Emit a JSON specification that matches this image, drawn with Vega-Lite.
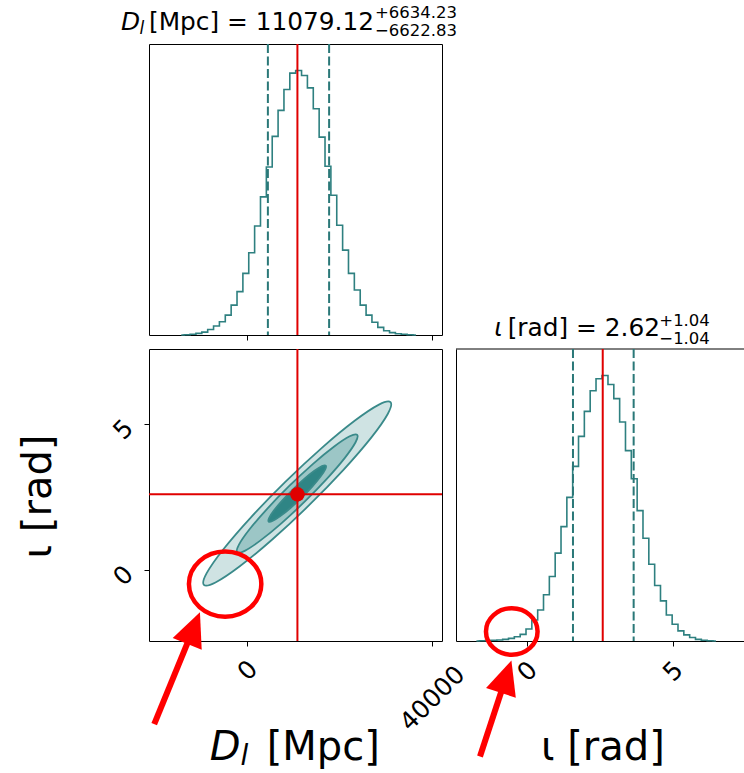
{
  "$schema": "https://vega.github.io/schema/vega-lite/v6.json",
  "padding": {"left": 17, "top": 4, "right": 0, "bottom": 0},
  "background": "white",
  "config": {
    "font": "DejaVu Sans",
    "view": {"stroke": "black", "strokeWidth": 1},
    "axis": {"grid": false, "domain": false, "tickColor": "black", "tickSize": 5, "tickWidth": 1, "labelColor": "black", "labelFont": "DejaVu Sans", "labelFontSize": 25, "labelFlush": false, "labelOverlap": false, "titleFont": "DejaVu Sans", "titleColor": "black", "titleFontWeight": "normal", "titleFontSize": 40},
    "text": {"font": "DejaVu Sans", "color": "black"}
  },
  "datasets": {
    "dlHist": [
      {"dl": -14290, "density": 0}, {"dl": -13020, "density": 0.001}, {"dl": -11750, "density": 0.003},
      {"dl": -10480, "density": 0.006}, {"dl": -9210, "density": 0.011}, {"dl": -7940, "density": 0.021},
      {"dl": -6670, "density": 0.034}, {"dl": -5400, "density": 0.05}, {"dl": -4130, "density": 0.075},
      {"dl": -2860, "density": 0.113}, {"dl": -1590, "density": 0.164}, {"dl": -320, "density": 0.233},
      {"dl": 950, "density": 0.311}, {"dl": 2220, "density": 0.412}, {"dl": 3490, "density": 0.522},
      {"dl": 4760, "density": 0.635}, {"dl": 6030, "density": 0.751}, {"dl": 7300, "density": 0.849},
      {"dl": 8570, "density": 0.928}, {"dl": 9840, "density": 0.99}, {"dl": 11110, "density": 1.0},
      {"dl": 12380, "density": 0.981}, {"dl": 13650, "density": 0.934}, {"dl": 14920, "density": 0.855},
      {"dl": 16190, "density": 0.748}, {"dl": 17460, "density": 0.638}, {"dl": 18730, "density": 0.528},
      {"dl": 20000, "density": 0.415}, {"dl": 21270, "density": 0.321}, {"dl": 22540, "density": 0.233},
      {"dl": 23810, "density": 0.17}, {"dl": 25080, "density": 0.113}, {"dl": 26350, "density": 0.075},
      {"dl": 27620, "density": 0.048}, {"dl": 28890, "density": 0.029}, {"dl": 30160, "density": 0.016},
      {"dl": 31430, "density": 0.009}, {"dl": 32700, "density": 0.005}, {"dl": 33970, "density": 0.003},
      {"dl": 35240, "density": 0.001}, {"dl": 36510, "density": 0}
    ],
    "iotaHist": [
      {"iota": -1.73, "density": 0}, {"iota": -1.53, "density": 0.001}, {"iota": -1.33, "density": 0.002},
      {"iota": -1.13, "density": 0.003}, {"iota": -0.93, "density": 0.004}, {"iota": -0.73, "density": 0.006},
      {"iota": -0.53, "density": 0.01}, {"iota": -0.33, "density": 0.016}, {"iota": -0.13, "density": 0.025},
      {"iota": 0.07, "density": 0.045}, {"iota": 0.27, "density": 0.079}, {"iota": 0.47, "density": 0.117},
      {"iota": 0.67, "density": 0.174}, {"iota": 0.87, "density": 0.243}, {"iota": 1.07, "density": 0.331},
      {"iota": 1.27, "density": 0.431}, {"iota": 1.47, "density": 0.541}, {"iota": 1.67, "density": 0.658},
      {"iota": 1.87, "density": 0.771}, {"iota": 2.07, "density": 0.865}, {"iota": 2.27, "density": 0.943},
      {"iota": 2.47, "density": 0.988}, {"iota": 2.68, "density": 1.0}, {"iota": 2.88, "density": 0.966},
      {"iota": 3.08, "density": 0.913}, {"iota": 3.28, "density": 0.825}, {"iota": 3.48, "density": 0.717},
      {"iota": 3.68, "density": 0.611}, {"iota": 3.88, "density": 0.491}, {"iota": 4.08, "density": 0.387},
      {"iota": 4.28, "density": 0.289}, {"iota": 4.48, "density": 0.209}, {"iota": 4.68, "density": 0.151},
      {"iota": 4.88, "density": 0.098}, {"iota": 5.08, "density": 0.063}, {"iota": 5.28, "density": 0.038},
      {"iota": 5.48, "density": 0.023}, {"iota": 5.68, "density": 0.013}, {"iota": 5.88, "density": 0.006},
      {"iota": 6.08, "density": 0.003}, {"iota": 6.28, "density": 0.001}, {"iota": 6.48, "density": 0}
    ],
    "contours": [
      {"level": "outer", "i": 0, "dl": 31005, "iota": 5.756}, {"level": "outer", "i": 1, "dl": 28503, "iota": 5.674},
      {"level": "outer", "i": 2, "dl": 23305, "iota": 5.127}, {"level": "outer", "i": 3, "dl": 16206, "iota": 4.2},
      {"level": "outer", "i": 4, "dl": 8283, "iota": 3.032}, {"level": "outer", "i": 5, "dl": 744, "iota": 1.802},
      {"level": "outer", "i": 6, "dl": -5261, "iota": 0.698}, {"level": "outer", "i": 7, "dl": -8823, "iota": -0.114},
      {"level": "outer", "i": 8, "dl": -9395, "iota": -0.508}, {"level": "outer", "i": 9, "dl": -6893, "iota": -0.426},
      {"level": "outer", "i": 10, "dl": -1695, "iota": 0.121}, {"level": "outer", "i": 11, "dl": 5404, "iota": 1.048},
      {"level": "outer", "i": 12, "dl": 13327, "iota": 2.216}, {"level": "outer", "i": 13, "dl": 20866, "iota": 3.446},
      {"level": "outer", "i": 14, "dl": 26871, "iota": 4.551}, {"level": "outer", "i": 15, "dl": 30433, "iota": 5.362},
      {"level": "mid", "i": 0, "dl": 23791, "iota": 4.638}, {"level": "mid", "i": 1, "dl": 22166, "iota": 4.588},
      {"level": "mid", "i": 2, "dl": 18810, "iota": 4.238}, {"level": "mid", "i": 3, "dl": 14237, "iota": 3.644},
      {"level": "mid", "i": 4, "dl": 9140, "iota": 2.893}, {"level": "mid", "i": 5, "dl": 4297, "iota": 2.102},
      {"level": "mid", "i": 6, "dl": 446, "iota": 1.39}, {"level": "mid", "i": 7, "dl": -1830, "iota": 0.866},
      {"level": "mid", "i": 8, "dl": -2181, "iota": 0.61}, {"level": "mid", "i": 9, "dl": -556, "iota": 0.66},
      {"level": "mid", "i": 10, "dl": 2800, "iota": 1.01}, {"level": "mid", "i": 11, "dl": 7373, "iota": 1.604},
      {"level": "mid", "i": 12, "dl": 12470, "iota": 2.355}, {"level": "mid", "i": 13, "dl": 17313, "iota": 3.146},
      {"level": "mid", "i": 14, "dl": 21164, "iota": 3.858}, {"level": "mid", "i": 15, "dl": 23440, "iota": 4.382},
      {"level": "inner", "i": 0, "dl": 16989, "iota": 3.583}, {"level": "inner", "i": 1, "dl": 16171, "iota": 3.566},
      {"level": "inner", "i": 2, "dl": 14536, "iota": 3.406}, {"level": "inner", "i": 3, "dl": 12333, "iota": 3.127},
      {"level": "inner", "i": 4, "dl": 9897, "iota": 2.771}, {"level": "inner", "i": 5, "dl": 7599, "iota": 2.393},
      {"level": "inner", "i": 6, "dl": 5790, "iota": 2.05}, {"level": "inner", "i": 7, "dl": 4745, "iota": 1.794},
      {"level": "inner", "i": 8, "dl": 4621, "iota": 1.665}, {"level": "inner", "i": 9, "dl": 5439, "iota": 1.682},
      {"level": "inner", "i": 10, "dl": 7074, "iota": 1.842}, {"level": "inner", "i": 11, "dl": 9277, "iota": 2.121},
      {"level": "inner", "i": 12, "dl": 11713, "iota": 2.477}, {"level": "inner", "i": 13, "dl": 14011, "iota": 2.855},
      {"level": "inner", "i": 14, "dl": 15820, "iota": 3.198}, {"level": "inner", "i": 15, "dl": 16865, "iota": 3.454}
    ]
  },
  "bounds": "flush",
  "spacing": 14,
  "resolve": {"scale": {"x": "independent", "y": "independent"}},
  "vconcat": [
    {
      "width": 293, "height": 291,
      "layer": [
        {
          "data": {"name": "dlHist"},
          "mark": {"type": "line", "interpolate": "step", "color": "#2e8080", "strokeWidth": 1.6},
          "encoding": {
            "x": {"field": "dl", "type": "quantitative", "scale": {"domain": [-21280, 42150], "nice": false, "zero": false}, "axis": {"values": [0, 40000], "labels": false, "title": null}},
            "y": {"field": "density", "type": "quantitative", "scale": {"domain": [0, 1.1], "nice": false}, "axis": null}
          }
        },
        {
          "data": {"values": [{"dl": 4456.29}, {"dl": 17713.35}]},
          "mark": {"type": "rule", "color": "#2a7878", "strokeWidth": 2, "strokeDash": [9, 3.5]},
          "encoding": {"x": {"field": "dl", "type": "quantitative", "scale": {"domain": [-21280, 42150], "nice": false, "zero": false}}}
        },
        {
          "data": {"values": [{"dl": 10850}]},
          "mark": {"type": "rule", "color": "#e00000", "strokeWidth": 2},
          "encoding": {"x": {"field": "dl", "type": "quantitative", "scale": {"domain": [-21280, 42150], "nice": false, "zero": false}}}
        },
        {
          "data": {"values": [{"s": "D"}]},
          "mark": {"type": "text", "fontStyle": "italic", "fontSize": 24.8, "align": "right", "baseline": "alphabetic"},
          "encoding": {"text": {"field": "s"}, "x": {"value": -9}, "y": {"value": -14.4}}
        },
        {
          "data": {"values": [{"s": "l"}]},
          "mark": {"type": "text", "fontStyle": "italic", "fontSize": 17, "align": "left", "baseline": "alphabetic"},
          "encoding": {"text": {"field": "s"}, "x": {"value": -9.5}, "y": {"value": -10.5}}
        },
        {
          "data": {"values": [{"s": "[Mpc] = 11079.12"}]},
          "mark": {"type": "text", "fontSize": 24.8, "align": "left", "baseline": "alphabetic"},
          "encoding": {"text": {"field": "s"}, "x": {"value": 0}, "y": {"value": -14.4}}
        },
        {
          "data": {"values": [{"s": "+6634.23"}]},
          "mark": {"type": "text", "fontSize": 16.5, "align": "left", "baseline": "alphabetic"},
          "encoding": {"text": {"field": "s"}, "x": {"value": 226}, "y": {"value": -26.5}}
        },
        {
          "data": {"values": [{"s": "−6622.83"}]},
          "mark": {"type": "text", "fontSize": 16.5, "align": "left", "baseline": "alphabetic"},
          "encoding": {"text": {"field": "s"}, "x": {"value": 226}, "y": {"value": -8}}
        }
      ]
    },
    {
      "bounds": "flush",
      "spacing": 14,
      "resolve": {"scale": {"x": "independent", "y": "independent"}},
      "hconcat": [
        {
          "width": 293, "height": 292,
          "layer": [
            {
              "data": {"name": "contours"},
              "transform": [{"filter": "datum.level == 'outer'"}],
              "mark": {"type": "line", "interpolate": "cardinal-closed", "fill": "#cfe3e3", "stroke": "#3a8a8a", "strokeWidth": 1.8},
              "encoding": {
                "x": {"field": "dl", "type": "quantitative", "scale": {"domain": [-21280, 42150], "nice": false, "zero": false},
                      "axis": {"values": [0, 40000], "format": "d", "labelAngle": -45, "labelAlign": "center", "labelBaseline": "middle",
                               "labelPadding": {"condition": {"test": "datum.value == 40000", "value": 52}, "value": 24}, "title": null}},
                "y": {"field": "iota", "type": "quantitative", "scale": {"domain": [-2.43, 7.58], "nice": false, "zero": false},
                      "axis": {"values": [0, 5], "labelAngle": -45, "labelAlign": "center", "labelBaseline": "middle", "labelPadding": 21, "labelOffset": 5,
                               "title": "ι [rad]", "titleX": -98.6, "titleY": 147, "titleAngle": -90, "titleAlign": "center", "titleBaseline": "alphabetic"}},
                "order": {"field": "i", "type": "quantitative"}
              }
            },
            {
              "data": {"name": "contours"},
              "transform": [{"filter": "datum.level == 'mid'"}],
              "mark": {"type": "line", "interpolate": "cardinal-closed", "fill": "#9cc6c6", "stroke": "#3a8a8a", "strokeWidth": 1.8},
              "encoding": {
                "x": {"field": "dl", "type": "quantitative", "scale": {"domain": [-21280, 42150], "nice": false, "zero": false}},
                "y": {"field": "iota", "type": "quantitative", "scale": {"domain": [-2.43, 7.58], "nice": false, "zero": false}},
                "order": {"field": "i", "type": "quantitative"}
              }
            },
            {
              "data": {"name": "contours"},
              "transform": [{"filter": "datum.level == 'inner'"}],
              "mark": {"type": "line", "interpolate": "cardinal-closed", "fill": "#2f8585", "stroke": "#3a8a8a", "strokeWidth": 1.8},
              "encoding": {
                "x": {"field": "dl", "type": "quantitative", "scale": {"domain": [-21280, 42150], "nice": false, "zero": false}},
                "y": {"field": "iota", "type": "quantitative", "scale": {"domain": [-2.43, 7.58], "nice": false, "zero": false}},
                "order": {"field": "i", "type": "quantitative"}
              }
            },
            {
              "data": {"values": [{"dl": 10850}]},
              "mark": {"type": "rule", "color": "#e00000", "strokeWidth": 2},
              "encoding": {"x": {"field": "dl", "type": "quantitative", "scale": {"domain": [-21280, 42150], "nice": false, "zero": false}}}
            },
            {
              "data": {"values": [{"iota": 2.6}]},
              "mark": {"type": "rule", "color": "#e00000", "strokeWidth": 2},
              "encoding": {"y": {"field": "iota", "type": "quantitative", "scale": {"domain": [-2.43, 7.58], "nice": false, "zero": false}}}
            },
            {
              "data": {"values": [{"dl": 10850, "iota": 2.6}]},
              "mark": {"type": "point", "shape": "circle", "filled": true, "color": "#e00000", "size": 210, "opacity": 1},
              "encoding": {
                "x": {"field": "dl", "type": "quantitative", "scale": {"domain": [-21280, 42150], "nice": false, "zero": false}},
                "y": {"field": "iota", "type": "quantitative", "scale": {"domain": [-2.43, 7.58], "nice": false, "zero": false}}
              }
            },
            {
              "data": {"values": [{"dl": -4799, "iota": -0.48}]},
              "mark": {"type": "point", "shape": "M-1,0A1,0.9,0,1,1,1,0A1,0.9,0,1,1,-1,0Z", "filled": false, "stroke": "#ff0000", "strokeWidth": 4.5, "size": 5242, "opacity": 1},
              "encoding": {
                "x": {"field": "dl", "type": "quantitative", "scale": {"domain": [-21280, 42150], "nice": false, "zero": false}},
                "y": {"field": "iota", "type": "quantitative", "scale": {"domain": [-2.43, 7.58], "nice": false, "zero": false}}
              }
            },
            {
              "data": {"values": [{"dl": -20150, "iota": -5.276, "dl2": -11632, "iota2": -1.988}]},
              "mark": {"type": "rule", "color": "#ff0000", "strokeWidth": 6},
              "encoding": {
                "x": {"field": "dl", "type": "quantitative", "scale": {"domain": [-21280, 42150], "nice": false, "zero": false}},
                "y": {"field": "iota", "type": "quantitative", "scale": {"domain": [-2.43, 7.58], "nice": false, "zero": false}},
                "x2": {"field": "dl2"},
                "y2": {"field": "iota2"}
              }
            },
            {
              "data": {"values": [{"dl": -11632, "iota": -1.988}]},
              "mark": {"type": "point", "shape": "M0,-1L0.92,1L-0.92,1Z", "filled": true, "color": "#ff0000", "size": 1156, "angle": 22, "opacity": 1},
              "encoding": {
                "x": {"field": "dl", "type": "quantitative", "scale": {"domain": [-21280, 42150], "nice": false, "zero": false}},
                "y": {"field": "iota", "type": "quantitative", "scale": {"domain": [-2.43, 7.58], "nice": false, "zero": false}}
              }
            },
            {
              "data": {"values": [{"s": "D"}]},
              "mark": {"type": "text", "fontStyle": "italic", "fontSize": 40, "align": "left", "baseline": "alphabetic"},
              "encoding": {"text": {"field": "s"}, "x": {"value": 60.7}, "y": {"value": 410.5}}
            },
            {
              "data": {"values": [{"s": "l"}]},
              "mark": {"type": "text", "fontStyle": "italic", "fontSize": 28, "align": "left", "baseline": "alphabetic"},
              "encoding": {"text": {"field": "s"}, "x": {"value": 91.5}, "y": {"value": 415.5}}
            },
            {
              "data": {"values": [{"s": "[Mpc]"}]},
              "mark": {"type": "text", "fontSize": 40, "align": "left", "baseline": "alphabetic"},
              "encoding": {"text": {"field": "s"}, "x": {"value": 117.7}, "y": {"value": 410.5}}
            }
          ]
        },
        {
          "width": 289, "height": 292,
          "view": {"stroke": null},
          "layer": [
            {
              "data": {"name": "iotaHist"},
              "mark": {"type": "line", "interpolate": "step", "color": "#2e8080", "strokeWidth": 1.6},
              "encoding": {
                "x": {"field": "iota", "type": "quantitative", "scale": {"domain": [-2.43, 7.477], "nice": false, "zero": false},
                      "axis": {"values": [0, 5], "labelAngle": -45, "labelAlign": "center", "labelBaseline": "middle", "labelPadding": 25,
                               "domain": true, "domainColor": "black", "domainWidth": 1,
                               "title": "ι [rad]", "titleX": 146.4, "titleY": 118.5, "titleAlign": "center", "titleBaseline": "alphabetic"}},
                "y": {"field": "density", "type": "quantitative", "scale": {"domain": [0, 1.1], "nice": false},
                      "axis": {"domain": true, "domainColor": "black", "domainWidth": 1, "ticks": false, "labels": false, "title": null}}
              }
            },
            {
              "data": {"values": [{"density": 1.1}]},
              "mark": {"type": "rule", "color": "black", "strokeWidth": 1},
              "encoding": {"y": {"field": "density", "type": "quantitative", "scale": {"domain": [0, 1.1], "nice": false}}}
            },
            {
              "data": {"values": [{"iota": 1.58}, {"iota": 3.66}]},
              "mark": {"type": "rule", "color": "#2a7878", "strokeWidth": 2, "strokeDash": [9, 3.5]},
              "encoding": {"x": {"field": "iota", "type": "quantitative", "scale": {"domain": [-2.43, 7.477], "nice": false, "zero": false}}}
            },
            {
              "data": {"values": [{"iota": 2.6}]},
              "mark": {"type": "rule", "color": "#e00000", "strokeWidth": 2},
              "encoding": {"x": {"field": "iota", "type": "quantitative", "scale": {"domain": [-2.43, 7.477], "nice": false, "zero": false}}}
            },
            {
              "data": {"values": [{"iota": -0.518, "density": 0.0358}]},
              "mark": {"type": "point", "shape": "M-1,0A1,0.9,0,1,1,1,0A1,0.9,0,1,1,-1,0Z", "filled": false, "stroke": "#ff0000", "strokeWidth": 4.5, "size": 2663, "opacity": 1},
              "encoding": {
                "x": {"field": "iota", "type": "quantitative", "scale": {"domain": [-2.43, 7.477], "nice": false, "zero": false}},
                "y": {"field": "density", "type": "quantitative", "scale": {"domain": [0, 1.1], "nice": false}}
              }
            },
            {
              "data": {"values": [{"iota": -1.608, "density": -0.435, "iota2": -0.71, "density2": -0.1345}]},
              "mark": {"type": "rule", "color": "#ff0000", "strokeWidth": 6},
              "encoding": {
                "x": {"field": "iota", "type": "quantitative", "scale": {"domain": [-2.43, 7.477], "nice": false, "zero": false}},
                "y": {"field": "density", "type": "quantitative", "scale": {"domain": [0, 1.1], "nice": false}},
                "x2": {"field": "iota2"},
                "y2": {"field": "density2"}
              }
            },
            {
              "data": {"values": [{"iota": -0.71, "density": -0.1345}]},
              "mark": {"type": "point", "shape": "M0,-1L0.92,1L-0.92,1Z", "filled": true, "color": "#ff0000", "size": 1156, "angle": 18, "opacity": 1},
              "encoding": {
                "x": {"field": "iota", "type": "quantitative", "scale": {"domain": [-2.43, 7.477], "nice": false, "zero": false}},
                "y": {"field": "density", "type": "quantitative", "scale": {"domain": [0, 1.1], "nice": false}}
              }
            },
            {
              "data": {"values": [{"s": "ι"}]},
              "mark": {"type": "text", "fontStyle": "italic", "fontSize": 24.8, "align": "left", "baseline": "alphabetic"},
              "encoding": {"text": {"field": "s"}, "x": {"value": 38.3}, "y": {"value": -12.7}}
            },
            {
              "data": {"values": [{"s": "[rad] = 2.62"}]},
              "mark": {"type": "text", "fontSize": 24.8, "align": "left", "baseline": "alphabetic"},
              "encoding": {"text": {"field": "s"}, "x": {"value": 51.7}, "y": {"value": -12.7}}
            },
            {
              "data": {"values": [{"s": "+1.04"}]},
              "mark": {"type": "text", "fontSize": 16.5, "align": "left", "baseline": "alphabetic"},
              "encoding": {"text": {"field": "s"}, "x": {"value": 203.3}, "y": {"value": -23.5}}
            },
            {
              "data": {"values": [{"s": "−1.04"}]},
              "mark": {"type": "text", "fontSize": 16.5, "align": "left", "baseline": "alphabetic"},
              "encoding": {"text": {"field": "s"}, "x": {"value": 203.3}, "y": {"value": -5.5}}
            }
          ]
        }
      ]
    }
  ]
}
